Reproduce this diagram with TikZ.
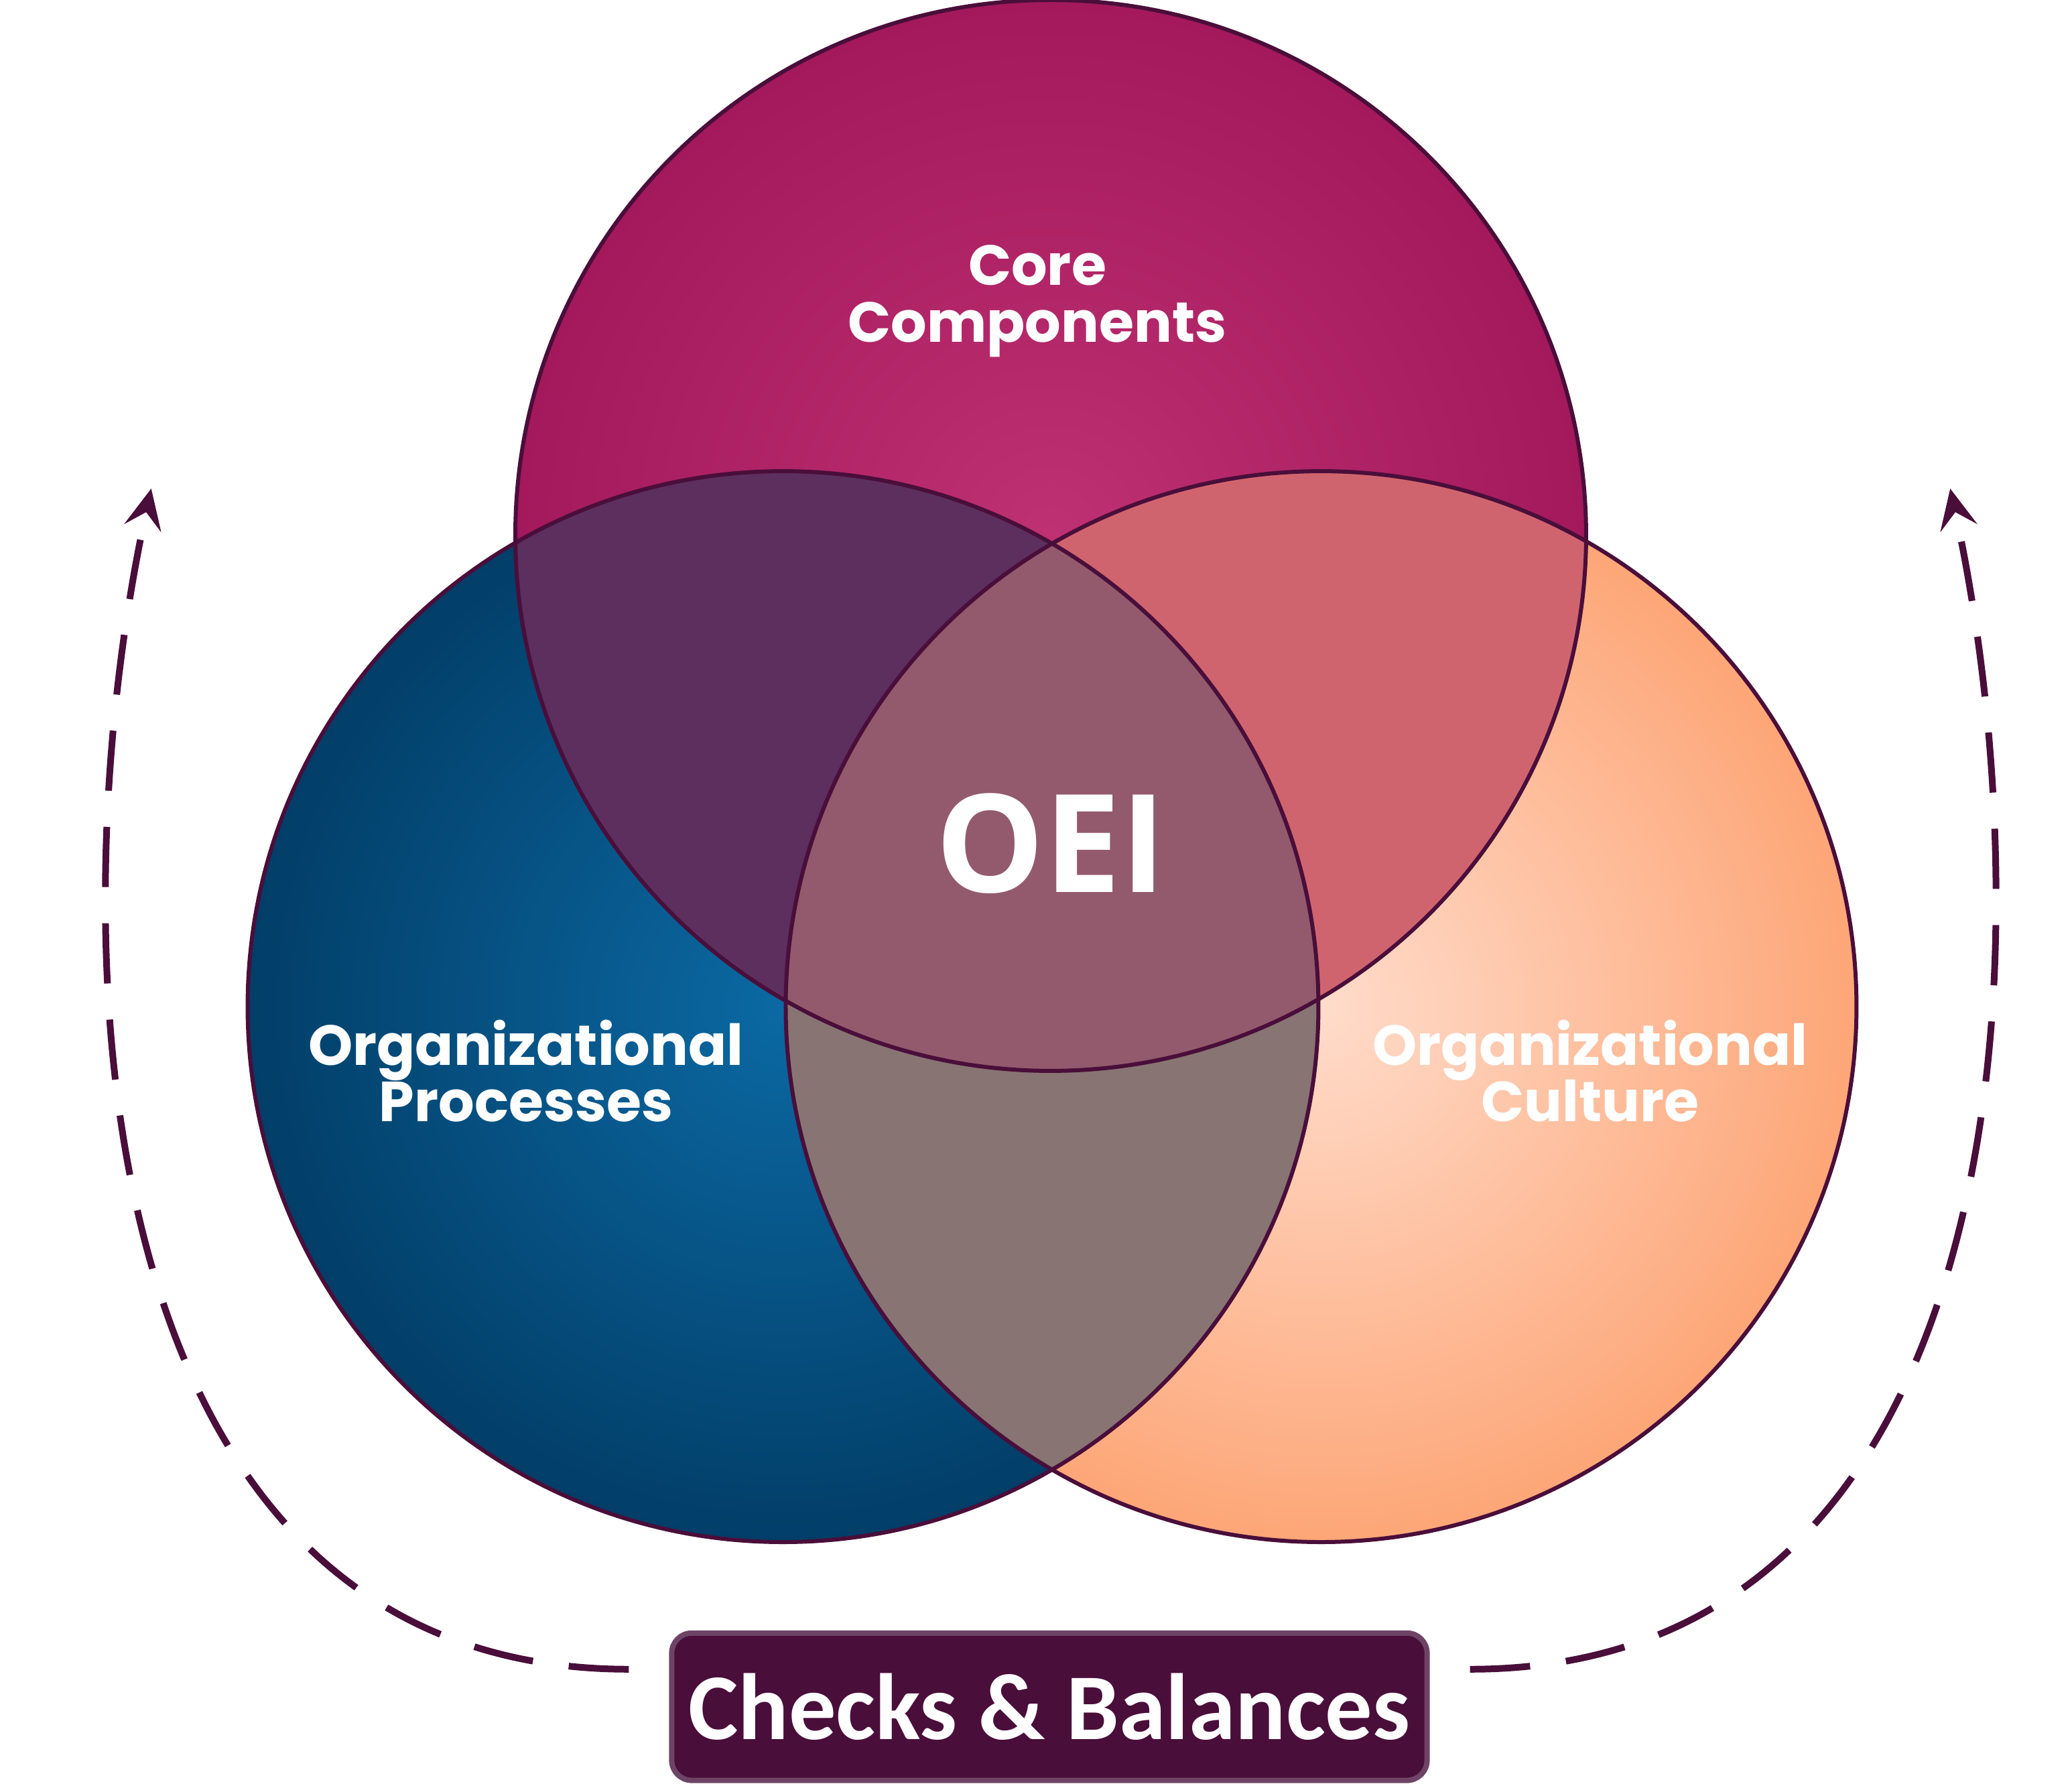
\documentclass[tikz,border=0pt]{standalone}
\usepackage{fontspec}
\newfontfamily\popfont{Poppins}
\newfontfamily\oeifont{Open Sans}
\newfontfamily\cbfont{Carlito}
\usetikzlibrary{arrows.meta, positioning}
\definecolor{plum}{HTML}{4A0E3A}
\definecolor{plumedge}{HTML}{6E4466}
\definecolor{magout}{HTML}{A3195B}
\definecolor{magin}{HTML}{BE3173}
\definecolor{blueout}{HTML}{023E68}
\definecolor{bluein}{HTML}{0B69A3}
\definecolor{peachout}{HTML}{FDA677}
\definecolor{peachin}{HTML}{FFDCCB}
\begin{document}
\begin{tikzpicture}[x=0.01cm, y=-0.01cm]

% Define styles
\tikzstyle{ring} = [circle, minimum size=8cm, inner sep=0pt]
\tikzstyle{edge} = [draw=plum, line width=0.03cm]
\tikzstyle{label} = [text=white, align=center, font=\popfont\bfseries\fontsize{12}{14}\selectfont]
\tikzstyle{loop} = [draw=plum, line width=0.05cm, dash pattern=on 0.45cm off 0.27cm, -{Stealth[length=0.3cm,width=0.28cm,inset=0.12cm]}]

\useasboundingbox (0,0) rectangle (1548,1334);

% Define circles
\node (core) [ring, inner color=magin, outer color=magout] at (785,400) {};
\node (proc) [ring, inner color=bluein, outer color=blueout] at (585,752) {};
\node (cult) [ring, shading=radial, inner color=peachin, outer color=peachout] at (987,752) {};

% Overlaps
\begin{scope}
\clip (core.center) circle (400);
\fill [fill=magout!55!black!10!white!0!magout] (proc.center) circle (400);
\fill [color={rgb,255:red,92;green,47;blue,94}] (proc.center) circle (400);
\fill [color={rgb,255:red,208;green,100;blue,110}] (cult.center) circle (400);
\end{scope}
\begin{scope}
\clip (proc.center) circle (400);
\fill [color={rgb,255:red,135;green,116;blue,115}] (cult.center) circle (400);
\clip (cult.center) circle (400);
\fill [color={rgb,255:red,147;green,90;blue,109}] (core.center) circle (400);
\end{scope}

% Outlines
\draw [edge] (core.center) circle (400);
\draw [edge] (proc.center) circle (400);
\draw [edge] (cult.center) circle (400);

% Labels
\node (corelbl) [label] at (775,225) {Core\\[-2pt]Components};
\node (proclbl) [label] at (393,800) {Organizational\\[-2pt]Processes};
\node (cultlbl) [label] at (1188,800) {Organizational\\[-2pt]Culture};
\node (oei) [text=white, font=\oeifont\bfseries\fontsize{29}{30}\selectfont] at (785,630) {OEI};

% Checks box
\node (checks) [rectangle, rounded corners=0.15cm, fill=plum, draw=plumedge, line width=0.04cm,
  minimum width=5.64cm, minimum height=1.1cm, text=white,
  font=\cbfont\bfseries\fontsize{20}{22}\selectfont] at (784,1275) {Checks \& Balances};

% Dashed loops
\coordinate (lend) at (113,365);
\coordinate (rend) at (1457,365);
\draw [loop] ([xshift=-0.3cm]checks.west |- 0,1247) .. controls (60,1247) and (40,700) .. (lend);
\draw [loop] ([xshift=0.3cm]checks.east |- 0,1247) .. controls (1510,1247) and (1530,700) .. (rend);

\end{tikzpicture}
\end{document}
